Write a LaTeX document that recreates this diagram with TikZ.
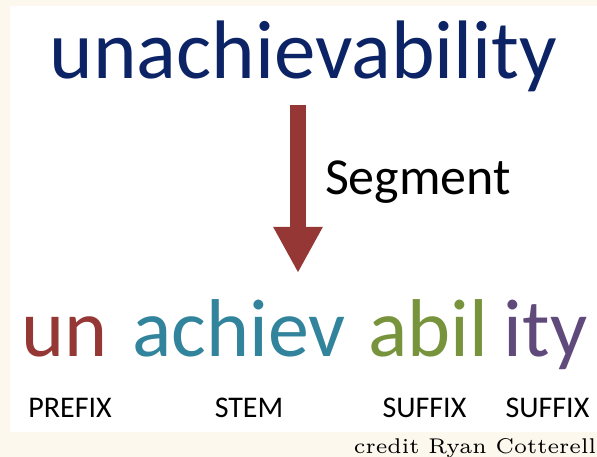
\documentclass[tikz,border=0pt]{standalone}
\usepackage{fontspec}
\newfontfamily\calib{Carlito}
\usetikzlibrary{arrows.meta}
\definecolor{cream}{HTML}{FDF8EE}
\definecolor{navy}{HTML}{0C2466}
\definecolor{wred}{HTML}{953735}
\definecolor{wteal}{HTML}{31849B}
\definecolor{wgreen}{HTML}{77933C}
\definecolor{wpurple}{HTML}{604A7B}
\tikzset{
  txt/.style={inner sep=0pt, outer sep=0pt, anchor=base},
  bigword/.style={txt, font=\calib\fontsize{83}{90}\selectfont},
  morph/.style={txt, font=\calib\fontsize{82}{90}\selectfont},
  tag/.style={txt, font=\calib\fontsize{30}{36}\selectfont, text=black},
  segarrow/.style={draw=wred, line width=16pt, -{Triangle[width=46pt,length=46pt]}}
}
\begin{document}
\begin{tikzpicture}[x=1pt,y=-1pt]
\useasboundingbox (0,0) rectangle (597,457);
\fill[cream] (0,0) rectangle (597,457);
\fill[white] (10,6) rectangle (597,432);
\node[bigword, text=navy] (word) at (303.5,79) {unachievability};
\coordinate (atop) at (298,105);
\coordinate (atip) at (298,273);
\draw[segarrow] (atop) -- (atip);
\node[txt, anchor=base west, font=\calib\fontsize{52}{60}\selectfont] (seg) at (325,195) {Segment};
\node[morph, text=wred] (un) at (65,356) {un};
\node[morph, text=wteal] (achiev) at (239,356) {achiev};
\node[morph, text=wgreen] (abil) at (428.5,356) {abil};
\node[morph, text=wpurple] (ity) at (545.5,356) {ity};
\node[tag] (prefix) at (70,417) {PREFIX};
\node[tag] (stem) at (249,417) {STEM};
\node[tag] (suf1) at (424.5,417) {SUFFIX};
\node[tag] (suf2) at (547.5,417) {SUFFIX};
\node[txt, anchor=base east] (credit) at (596,453) {\resizebox{242pt}{15pt}{\fontsize{6}{7}\selectfont credit Ryan Cotterell}};
\end{tikzpicture}
\end{document}
